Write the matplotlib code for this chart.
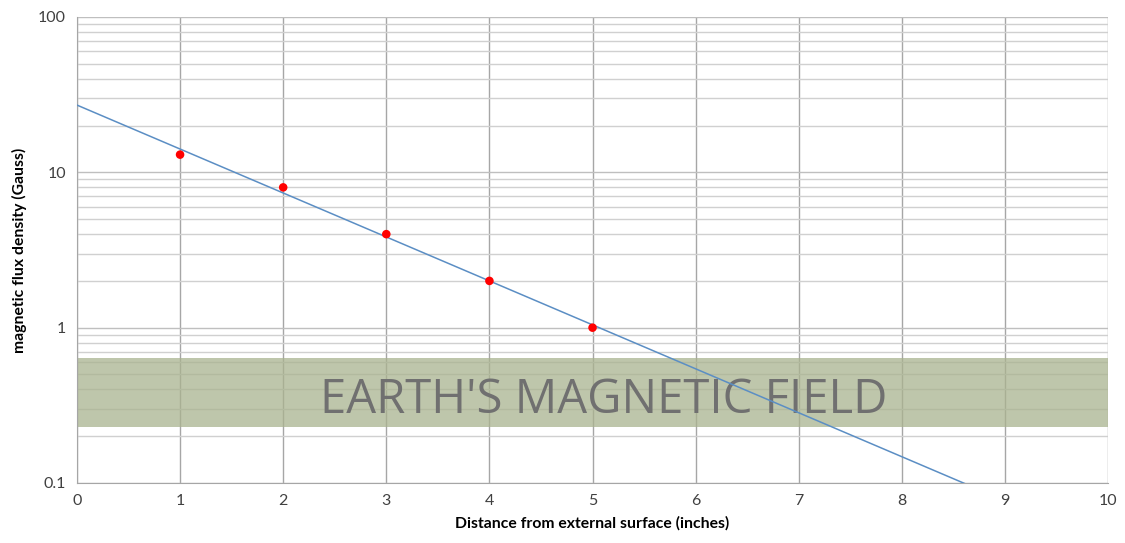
import matplotlib.pyplot as plt
import numpy as np

# measured flux density vs distance
distance = [1, 2, 3, 4, 5]
flux = [13, 8, 4, 2, 1]

# earth's field band (Gauss)
earth_low = 0.23
earth_high = 0.64

x_ticks = list(range(0, 11))
y_ticks = [0.1, 1, 10, 100]
y_ticklabels = ['0.1', '1', '10', '100']

plt.rcParams['font.family'] = ['Lato', 'DejaVu Sans']

fig = plt.figure(figsize=(11.25, 5.43), dpi=100)
ax = fig.add_axes([0.0684, 0.1105, 0.9166, 0.8582])

ax.set_yscale('log')
ax.set_xlim(0, 10)
ax.set_ylim(0.1, 100)

# exponential trendline through the points
k, b = np.polyfit(distance, np.log(flux), 1)
xs = np.linspace(0, 10, 200)
ax.plot(xs, np.exp(b + k * xs), color='#5b8ec4', lw=1.1, zorder=6)

ax.scatter(distance, flux, s=38, color='#ff0000', zorder=7, edgecolors='none')

ax.axhspan(earth_low, earth_high, color='#a9b38f', alpha=0.75, zorder=2, lw=0)
ax.text(5.107, 0.283, "EARTH'S MAGNETIC FIELD", family=['Open Sans', 'DejaVu Sans'],
        ha='center', va='baseline', fontsize=34, color='#707070', zorder=5)

ax.set_xticks(x_ticks)
ax.set_yticks(y_ticks)
ax.set_yticklabels(y_ticklabels)
ax.yaxis.set_minor_locator(plt.LogLocator(base=10, subs=np.arange(2, 10)))
ax.yaxis.set_minor_formatter(plt.NullFormatter())

ax.grid(True, axis='x', which='major', color='#a6a6a6', lw=1, zorder=1)
ax.grid(True, axis='y', which='major', color='#bfbfbf', lw=1, zorder=1)
ax.grid(True, axis='y', which='minor', color='#d0d0d0', lw=1, zorder=1)
ax.set_axisbelow(True)

for s in ['top', 'right']:
    ax.spines[s].set_visible(False)
for s in ['left', 'bottom']:
    ax.spines[s].set_color('#a6a6a6')
ax.tick_params(which='both', length=0, labelsize=11.5, colors='#404040', pad=8)

ax.set_xlabel('Distance from external surface (inches)', fontsize=11.3,
              fontweight='bold', labelpad=6)
ax.set_ylabel('magnetic flux density (Gauss)', fontsize=11.3,
              fontweight='bold', labelpad=8)

fig.savefig('out.png', dpi=100)
